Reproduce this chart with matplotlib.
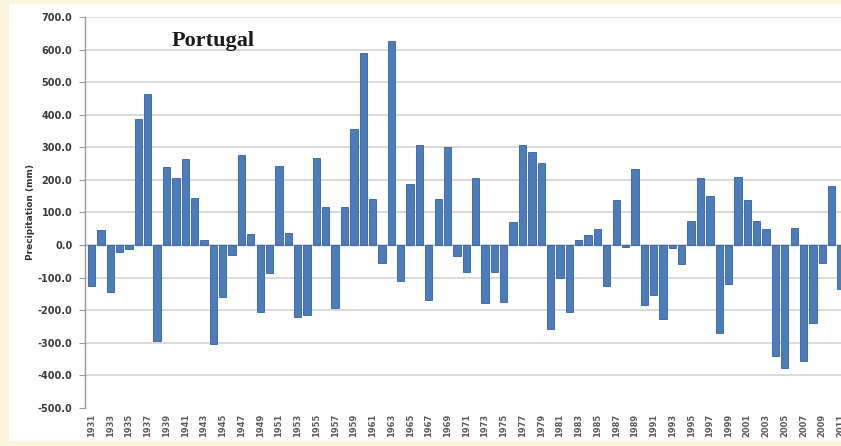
import numpy as np
from matplotlib import pyplot as plt
from matplotlib.patches import Rectangle

# annual precipitation anomaly, Portugal
years = list(range(1931, 2012))
anomaly = [-125, 46, -143, -20, -12, 388, 463, -293, 240, 205,
           263, 146, 17, -304, -158, -31, 276, 34, -204, -85,
           242, 36, -222, -215, 266, 117, -194, 116, 355, 590,
           142, -56, 627, -109, 189, 307, -169, 140, 300, -34,
           -82, 205, -179, -82, -174, 71, 307, 286, 252, -259,
           -102, -204, 17, 31, 50, -126, 138, -5, 235, -184,
           -153, -228, -8, -58, 75, 205, 152, -271, -118, 208,
           138, 75, 50, -340, -378, 51, -355, -238, -56, 181,
           -136]
tick_years = years[::2]
y_ticks = list(range(-500, 701, 100))

fig = plt.figure(figsize=(8.41, 4.46), dpi=100, facecolor='#fbf5dc')
# white sheet inside the cream photo border
fig.patches.append(Rectangle((0.011, 0.012), 0.989, 0.979, transform=fig.transFigure,
                             facecolor='white', edgecolor='none', zorder=-10))

ax = fig.add_axes([85 / 841, 38 / 446, 756 / 841, 391 / 446])
ax.set_facecolor('white')

ax.bar(years, anomaly, width=0.78, color='#4a7cc0', edgecolor='#36609a',
       linewidth=0.6, zorder=3)
ax.axhline(0, color='#bfbfbf', linewidth=1.0, zorder=2)

ax.set_xlim(1930.3, 2011.0)
ax.set_ylim(-500, 700)
ax.set_yticks(y_ticks)
ax.set_yticklabels([f'{v:.1f}' for v in y_ticks], fontsize=7,
                   color='#3a3a3a', fontweight='bold')
ax.set_xticks(tick_years)
ax.set_xticklabels([str(y) for y in tick_years], rotation=90, fontsize=6,
                   color='#5a5a5a', fontweight='bold')
ax.tick_params(axis='x', length=0, pad=4)
ax.tick_params(axis='y', length=4, color='#9a9a9a', pad=5)

ax.grid(axis='y', color='#d4d4d4', linewidth=1.2, zorder=0)
ax.yaxis.get_gridlines()[0].set_visible(False)
ax.set_axisbelow(True)

for side in ['top', 'right', 'bottom']:
    ax.spines[side].set_visible(False)
ax.spines['left'].set_color('#9a9a9a')
ax.spines['left'].set_linewidth(1.0)

ax.set_ylabel('Precipitation (mm)', fontsize=6.5, fontweight='bold',
              color='#333333', labelpad=2)

ax.text(0.17, 0.965, 'Portugal', transform=ax.transAxes, fontsize=16,
        fontweight='bold', family='Liberation Serif', va='top', ha='center',
        color='#1a1a1a')

plt.savefig('out.png', dpi=100, facecolor=fig.get_facecolor())
